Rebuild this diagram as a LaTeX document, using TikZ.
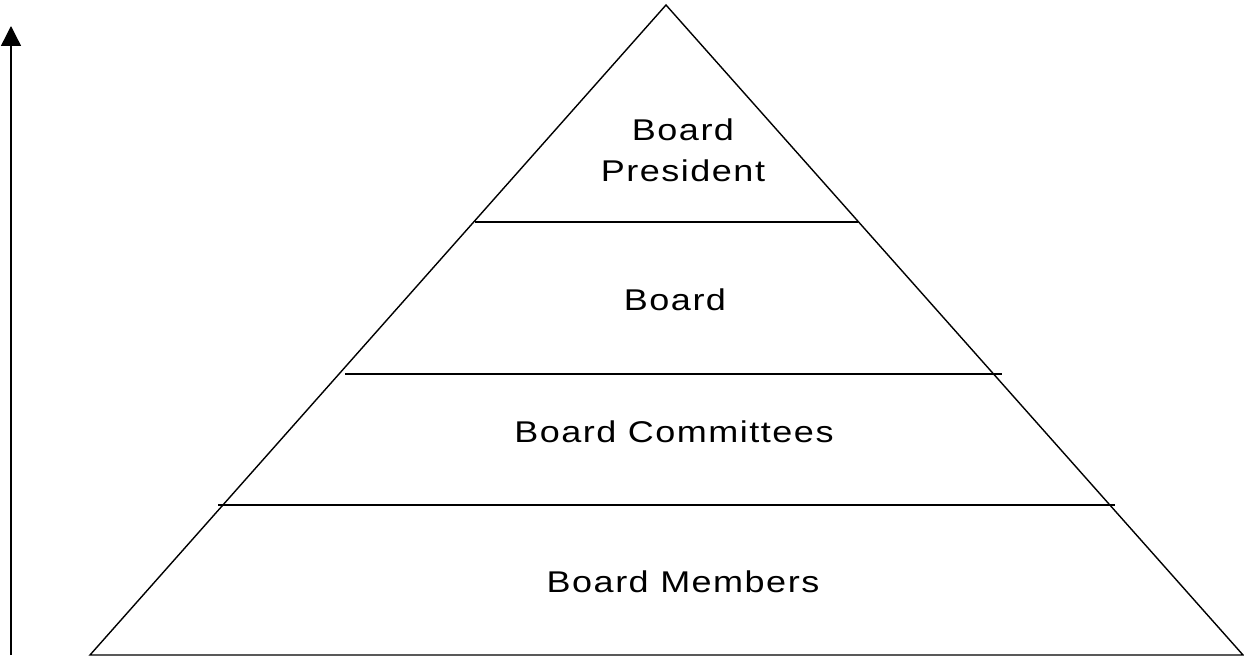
\documentclass[tikz,border=0pt]{standalone}
\usepackage{fontspec}
\setmainfont{Liberation Sans}[FakeStretch=1.2, LetterSpace=5]
\usepackage{tikz}
\usetikzlibrary{arrows.meta}

\begin{document}
\begin{tikzpicture}[x=1pt, y=-1pt, line width=1.4pt,
    tier/.style={font=\fontsize{30}{41}\selectfont, align=center}]
    \useasboundingbox (0,0) rectangle (1244,658);
    \coordinate (apex) at (666,5);
    \coordinate (baseL) at (90,655);
    \coordinate (baseR) at (1243,655);
    \draw (baseL) -- (apex) -- (baseR) -- cycle;
    % tier dividers
    \coordinate (dA1) at (475,222);  \coordinate (dA2) at (858,222);
    \coordinate (dB1) at (345,374);  \coordinate (dB2) at (1002,374);
    \coordinate (dC1) at (218,505);  \coordinate (dC2) at (1115,505);
    \draw (dA1) -- (dA2);
    \draw (dB1) -- (dB2);
    \draw (dC1) -- (dC2);
    % rising arrow
    \coordinate (arrLow) at (11,655);
    \coordinate (arrTop) at (11,26);
    \draw[-{Triangle[length=20pt,width=20pt]}] (arrLow) -- (arrTop);
    \node[tier] (president) at (683,150) {Board\\President};
    \node[tier] (board) at (675,300) {Board};
    \node[tier] (committees) at (674,432) {Board Committees};
    \node[tier] (members) at (683,582) {Board Members};
\end{tikzpicture}
\end{document}
